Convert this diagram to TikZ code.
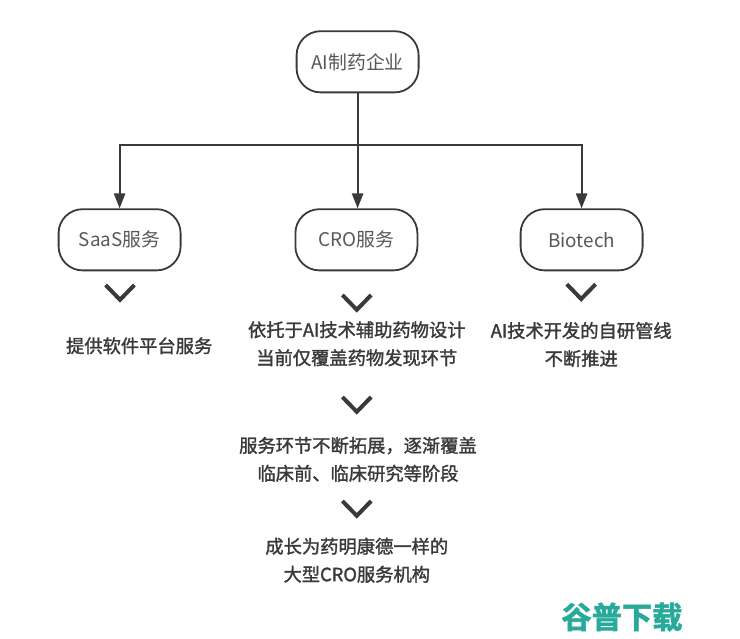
\documentclass[tikz,border=0pt]{standalone}
\usepackage{fontspec}
\usepackage{xcolor}
\usetikzlibrary{arrows.meta}
\newfontfamily\cjk{Noto Sans CJK SC}
\newfontfamily\cjkmed[FakeBold=1.6]{Noto Sans CJK SC}
\newfontfamily\cjkbold[UprightFont={* Bold},FakeBold=2]{Noto Sans CJK SC}
\definecolor{inkgray}{HTML}{3A3A3A}
\definecolor{markteal}{HTML}{28AA9B}
\tikzset{
  flowbox/.style={draw=inkgray,line width=0.045cm,rounded corners=0.6cm,minimum width=3.05cm,minimum height=1.53cm,text=inkgray!85,font=\cjk\fontsize{13.4}{15}\selectfont},
  flowline/.style={draw=inkgray,line width=0.045cm,-{Triangle[length=0.37cm,width=0.28cm]}},
  notetext/.style={text=inkgray,align=center,inner sep=0pt,font=\cjkmed\fontsize{13}{19.9}\selectfont},
  chevron/.style={draw=inkgray,line width=0.1cm}
}
\newcommand{\chev}[2]{\draw[chevron] (#1-0.36,#2+0.2) -- (#1,#2-0.17) -- (#1+0.36,#2+0.2);}
\begin{document}
\begin{tikzpicture}
\useasboundingbox (0,0) rectangle (18.5,15.975);

\node[flowbox] (ai) at (8.94,14.43) {AI制药企业};
\node[flowbox] (saas) at (2.99,9.98) {SaaS服务};
\node[flowbox] (cro) at (8.91,9.98) {CRO服务};
\node[flowbox] (biotech) at (14.54,9.98) {Biotech};

\coordinate (split) at (8.94,12.35);
\draw[flowline] (ai.south) -- (ai.south |- cro.north);
\draw[flowline] (split) -| (saas.north);
\draw[flowline] (split) -| (biotech.north);

\foreach \cx/\cy in {3/8.65,8.92/8.4,14.53/8.67,8.92/5.85,8.92/3.25}
  {\chev{\cx}{\cy}}

\node[notetext] (saasnote) at (3.48,7.33) {提供软件平台服务};
\node[notetext] (cronote) at (8.92,7.38) {依托于AI技术辅助药物设计\\当前仅覆盖药物发现环节};
\node[notetext] (biotechnote) at (14.53,7.36) {AI技术开发的自研管线\\不断推进};
\node[notetext] (expandnote) at (8.95,4.49) {服务环节不断拓展，逐渐覆盖\\临床前、临床研究等阶段};
\node[notetext] (growthnote) at (8.92,1.97) {成长为药明康德一样的\\大型CRO服务机构};

\node[text=markteal,inner sep=0pt,font={\cjkbold\fontsize{21.5}{24}\selectfont}] (watermark) at (15.55,0.55) {谷普下载};
\end{tikzpicture}
\end{document}
